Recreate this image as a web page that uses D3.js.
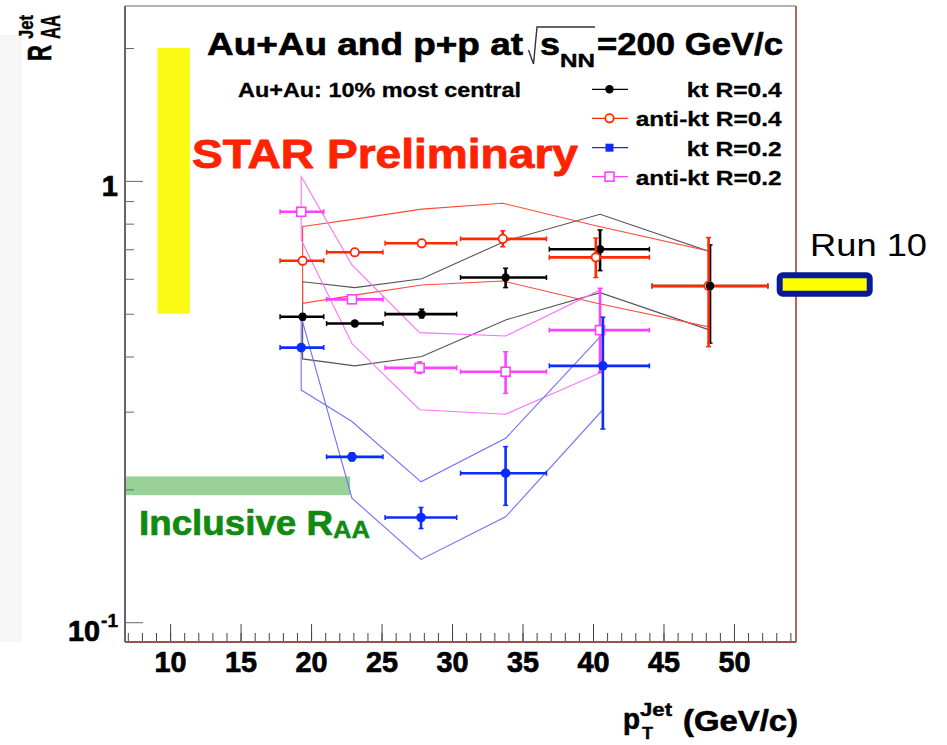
<!DOCTYPE html>
<html><head><meta charset="utf-8">
<script src="https://cdn.jsdelivr.net/npm/d3@7"></script>
<style>
body{margin:0;background:#fff}
svg{display:block}
text{font-family:"Liberation Sans",Arial,Helvetica,sans-serif}
</style>
</head><body>
<svg id="c" width="947" height="745"></svg>
<script>
// ---------------- data ----------------
const xMajorTicks = [10,15,20,25,30,35,40,45,50];
const xMinorTicks = d3.range(7,55,1);
const yMajorTicks = [0.1, 1];
const yMinorTicks = [0.2,0.3,0.4,0.5,0.6,0.7,0.8,0.9,2];
const legendLabels = ["kt R=0.4","anti-kt R=0.4","kt R=0.2","anti-kt R=0.2"];

const binLo = [17.8, 21.1, 25.25, 30.6, 36.9, 44.2];
const binHi = [20.9, 25.1, 30.33, 36.7, 44.0, 52.4];

// kt R=0.4
const ktR04X  = [19.4, 23.1, 27.85, 33.8, 40.5, 48.3];
const ktR04Y  = [0.492, 0.475, 0.499, 0.604, 0.70, 0.578];
const ktR04Lo = [0.484, 0.468, 0.489, 0.573, 0.626, 0.429];
const ktR04Hi = [0.500, 0.482, 0.512, 0.634, 0.774, 0.716];
const ktR04SysHi = [0.591, 0.573, 0.600, 0.731, 0.840, 0.691];
const ktR04SysLo = [0.395, 0.381, 0.400, 0.484, 0.558, 0.459];
// anti-kt R=0.4
const akR04X  = [19.4, 23.1, 27.85, 33.6, 40.2, 48.2];
const akR04Y  = [0.659, 0.689, 0.722, 0.739, 0.671, 0.578];
const akR04Lo = [0.649, 0.679, 0.711, 0.709, 0.604, 0.421];
const akR04Hi = [0.669, 0.699, 0.733, 0.771, 0.742, 0.744];
const akR04SysHi = [0.788, 0.819, 0.863, 0.890, 0.791, 0.694];
const akR04SysLo = [0.528, 0.551, 0.581, 0.593, 0.529, 0.467];
// kt R=0.2
const ktR02X  = [19.3, 22.9, 27.8, 33.8, 40.7];
const ktR02Y  = [0.419, 0.237, 0.1727, 0.2176, 0.381];
const ktR02Lo = [0.412, 0.232, 0.163, 0.184, 0.274];
const ktR02Hi = [0.426, 0.242, 0.182, 0.250, 0.491];
const ktR02SysA = [0.336, 0.285, 0.208, 0.261, 0.450];
const ktR02SysB = [0.492, 0.191, 0.1388, 0.1733, 0.303];
// anti-kt R=0.2
const akR02X  = [19.3, 22.9, 27.7, 33.8, 40.5];
const akR02Y  = [0.851, 0.539, 0.377, 0.3695, 0.459];
const akR02Lo = [0.838, 0.530, 0.366, 0.330, 0.368];
const akR02Hi = [0.864, 0.548, 0.389, 0.410, 0.571];
const akR02SysHi = [1.023, 0.645, 0.453, 0.445, 0.566];
const akR02SysLo = [0.735, 0.428, 0.303, 0.296, 0.367];

// bands
const normBandX = [9.1, 11.4];
const normBandY = [0.5, 2.0];
const inclBandX = [6.8, 22.77];
const inclBandY = [0.194, 0.214];

// ---------------- drawing ----------------
const svg = d3.select("#c");
const L = 125, R = 796, T = 6, B = 642;
const x = d3.scaleLinear().domain([6.8, 54.4]).range([L, R]);
const y = d3.scaleLog().domain([0.0902, 2.49]).range([B, T]);
const FONT = '"Liberation Sans",Arial,sans-serif';

function txt(g, s, px, py, size, o) {
  o = o || {};
  const c = o.c || "#000";
  const t = g.append("text").attr("x", px).attr("y", py)
    .attr("font-size", size).attr("font-weight", o.w || "bold")
    .attr("fill", c).text(s);
  if (o.sw) t.attr("stroke", c).attr("stroke-width", o.sw).attr("stroke-linejoin","round");
  if (o.a) t.attr("text-anchor", o.a);
  if (o.len) t.attr("textLength", o.len).attr("lengthAdjust", "spacingAndGlyphs");
  return t;
}

// left light strip
svg.append("rect").attr("x",0).attr("y",35).attr("width",22).attr("height",B-35).attr("fill","#f6f6f6");

// yellow normalisation band
svg.append("rect")
  .attr("x", x(normBandX[0])).attr("width", x(normBandX[1]) - x(normBandX[0]))
  .attr("y", y(normBandY[1])).attr("height", y(normBandY[0]) - y(normBandY[1]))
  .attr("fill", "#fafa14");
// green inclusive band
svg.append("rect")
  .attr("x", x(inclBandX[0])).attr("width", x(inclBandX[1]) - x(inclBandX[0]))
  .attr("y", y(inclBandY[1])).attr("height", y(inclBandY[0]) - y(inclBandY[1]))
  .attr("fill", "#99d299");

// axes ticks
const gx = svg.append("g").attr("transform", `translate(0,${B})`);
gx.append("g").call(d3.axisBottom(x).tickValues(xMinorTicks).tickSize(-9).tickFormat(""))
  .call(g => g.select(".domain").remove());
gx.append("g").call(d3.axisBottom(x).tickValues(xMajorTicks).tickSize(-18).tickPadding(9))
  .call(g => g.select(".domain").remove())
  .call(g => g.selectAll("text").attr("font-size", 29).attr("font-weight","bold")
        .attr("fill","#000").attr("stroke","#000").attr("stroke-width",0.7)
        .attr("font-family",FONT)
        .attr("textLength", 32).attr("lengthAdjust","spacingAndGlyphs"));
gx.selectAll("line").attr("stroke", "#444");

const gy = svg.append("g").attr("transform", `translate(${L},0)`);
gy.append("g").call(d3.axisLeft(y).tickValues(yMinorTicks).tickSize(-9).tickFormat(""))
  .call(g => g.select(".domain").remove());
gy.append("g").call(d3.axisLeft(y).tickValues(yMajorTicks).tickSize(-18).tickPadding(7)
    .tickFormat(d => d === 1 ? "1" : "10"))
  .call(g => g.select(".domain").remove())
  .call(g => g.selectAll("text").attr("font-size", 29).attr("font-weight","bold")
        .attr("fill","#000").attr("stroke","#000").attr("stroke-width",0.7).attr("font-family",FONT))
  .call(g => g.selectAll(".tick").each(function(d){
      const t = d3.select(this).select("text");
      if (d === 1) { t.attr("dy","0.5em"); }
      else {
        t.attr("x", -25).attr("dy","0.62em").attr("textLength",32).attr("lengthAdjust","spacingAndGlyphs");
        d3.select(this).append("text").attr("x",-7).attr("y",0).attr("dy","0.22em")
          .attr("text-anchor","end").attr("font-size",19).attr("font-weight","bold")
          .attr("fill","#000").attr("stroke","#000").attr("stroke-width",0.4)
          .attr("font-family",FONT).text("-1");
      }
  }));
gy.selectAll("line").attr("stroke", "#666");

// frame
svg.append("line").attr("x1",L).attr("x2",R).attr("y1",T).attr("y2",T).attr("stroke","#999").attr("stroke-width",1.5);
svg.append("line").attr("x1",L).attr("x2",L).attr("y1",T).attr("y2",B).attr("stroke","#666").attr("stroke-width",2);
svg.append("line").attr("x1",R).attr("x2",R).attr("y1",T).attr("y2",B).attr("stroke","#b8665e").attr("stroke-width",2);
svg.append("line").attr("x1",L).attr("x2",R).attr("y1",B).attr("y2",B).attr("stroke","#a0504a").attr("stroke-width",2);

// systematic bands (closed outlines)
function band(xs, hi, lo, col) {
  const pts = xs.map((v,i)=>[x(v), y(hi[i])]).concat(xs.map((v,i)=>[x(v), y(lo[i])]).reverse());
  svg.append("path").attr("d", d3.line()(pts) + "Z")
    .attr("fill","none").attr("stroke",col).attr("stroke-width",1.1);
}
band(ktR04X, ktR04SysHi, ktR04SysLo, "#555555");
band(akR04X, akR04SysHi, akR04SysLo, "#ff4a3a");
band(akR02X, akR02SysHi, akR02SysLo, "#ff70ff");
band(ktR02X, ktR02SysA, ktR02SysB, "#6f6fff");

// points with errors
function series(xs, ys, lo, hi, col, marker) {
  const g = svg.append("g");
  xs.forEach((v,i) => {
    const cx = x(v), cy = y(ys[i]);
    const x0 = x(binLo[i]), x1 = x(binHi[i]);
    const y0 = y(lo[i]), y1 = y(hi[i]);
    g.append("line").attr("x1",x0).attr("x2",x1).attr("y1",cy).attr("y2",cy)
      .attr("stroke",col).attr("stroke-width",2.6);
    [x0,x1].forEach(e => g.append("line").attr("x1",e).attr("x2",e).attr("y1",cy-2.5).attr("y2",cy+2.5)
      .attr("stroke",col).attr("stroke-width",1.5));
    if (y0 - y1 > 6) {
      g.append("line").attr("x1",cx).attr("x2",cx).attr("y1",y0).attr("y2",y1)
        .attr("stroke",col).attr("stroke-width",2.6);
      [y0,y1].forEach(e => g.append("line").attr("x1",cx-2.5).attr("x2",cx+2.5).attr("y1",e).attr("y2",e)
        .attr("stroke",col).attr("stroke-width",1.5));
    }
    drawMarker(g, marker, cx, cy, col);
  });
}
function drawMarker(g, m, cx, cy, col) {
  if (m === "fc") g.append("circle").attr("cx",cx).attr("cy",cy).attr("r",4.2).attr("fill",col);
  else if (m === "oc") g.append("circle").attr("cx",cx).attr("cy",cy).attr("r",4.2).attr("fill","#fff").attr("stroke",col).attr("stroke-width",1.8);
  else if (m === "fs") g.append("rect").attr("x",cx-4).attr("y",cy-4).attr("width",8).attr("height",8).attr("fill",col);
  else if (m === "os") g.append("rect").attr("x",cx-4.5).attr("y",cy-4.5).attr("width",9).attr("height",9).attr("fill","#fff").attr("stroke",col).attr("stroke-width",1.6);
  else if (m === "fcb") g.append("circle").attr("cx",cx).attr("cy",cy).attr("r",4.8).attr("fill",col);
}
series(akR02X, akR02Y, akR02Lo, akR02Hi, "#ff40ff", "os");
series(ktR02X, ktR02Y, ktR02Lo, ktR02Hi, "#0a2cff", "fcb");
series(ktR04X, ktR04Y, ktR04Lo, ktR04Hi, "#000000", "fc");
series(akR04X, akR04Y, akR04Lo, akR04Hi, "#ff2a00", "oc");
drawMarker(svg, "fc", x(ktR04X[5]), y(ktR04Y[5]), "#000");

// title
txt(svg, "Au+Au and p+p at", 207, 55, 31, {len: 316, sw: 0.6});
svg.append("path").attr("d","M528.5,50 L533.5,64 L537,27 L595,27")
  .attr("fill","none").attr("stroke","#333").attr("stroke-width",1.4);
txt(svg, "s", 540, 55, 31, {len: 20, sw: 0.6});
txt(svg, "NN", 560, 66.5, 19, {len: 35, sw: 0.4});
txt(svg, "=200 GeV/c", 597, 55, 31, {len: 186, sw: 0.6});
txt(svg, "Au+Au: 10% most central", 238, 97.3, 20, {len: 283, sw: 0.3});
txt(svg, "STAR Preliminary", 192, 168.3, 40.5, {c: "#ff2200", len: 386, sw: 0.8});
txt(svg, "Inclusive R", 139, 535, 35, {c: "#118a11", len: 194, sw: 0.7});
txt(svg, "AA", 333, 538, 23, {c: "#118a11", len: 37, sw: 0.5});

// legend
const legColors = ["#000000", "#ff2a00", "#0a2cff", "#ff40ff"];
const legMarkers = ["fc", "oc", "fs", "os"];
const legY = [89.3, 118.3, 147.7, 176.7];
const legWidths = [95, 146, 95, 146];
legendLabels.forEach((s,i) => {
  svg.append("line").attr("x1",592).attr("x2",628).attr("y1",legY[i]).attr("y2",legY[i])
    .attr("stroke",legColors[i]).attr("stroke-width",1.3);
  drawMarker(svg, legMarkers[i], 609.5, legY[i], legColors[i]);
  txt(svg, s, 781.7 - legWidths[i], legY[i] + 8, 21, {len: legWidths[i], sw: 0.3});
});

// Run 10 box
svg.append("rect").attr("x",781.5).attr("y",277.5).attr("width",90).attr("height",18.4).attr("rx",3)
  .attr("fill","#bbb").attr("opacity",0.6);
svg.append("rect").attr("x",779.7).attr("y",275.3).attr("width",90).attr("height",18.4).attr("rx",3)
  .attr("fill","#ffff00").attr("stroke","#0a1a96").attr("stroke-width",6);
txt(svg, "Run 10", 810, 256, 31.5, {w: "normal", len: 117});

// axis titles
const yt = svg.append("g").attr("transform","translate(51,61) rotate(-90)");
yt.append("text").attr("x",0).attr("y",0).attr("font-size",33).attr("font-weight","bold")
  .attr("stroke","#000").attr("stroke-width",0.6)
  .attr("textLength",16).attr("lengthAdjust","spacingAndGlyphs").text("R");
yt.append("text").attr("x",22).attr("y",-18).attr("font-size",21).attr("font-weight","bold")
  .attr("stroke","#000").attr("stroke-width",0.4)
  .attr("textLength",24).attr("lengthAdjust","spacingAndGlyphs").text("Jet");
yt.append("text").attr("x",22).attr("y",9).attr("font-size",27).attr("font-weight","bold")
  .attr("stroke","#000").attr("stroke-width",0.4)
  .attr("textLength",24).attr("lengthAdjust","spacingAndGlyphs").text("AA");

txt(svg, "p", 623, 729, 29, {len: 17, sw: 0.6});
txt(svg, "Jet", 640, 716, 18, {len: 32, sw: 0.4});
txt(svg, "T", 642, 739, 16, {len: 11, sw: 0.4});
txt(svg, "(GeV/c)", 683, 731, 29, {len: 115, sw: 0.6});
</script>
</body></html>
